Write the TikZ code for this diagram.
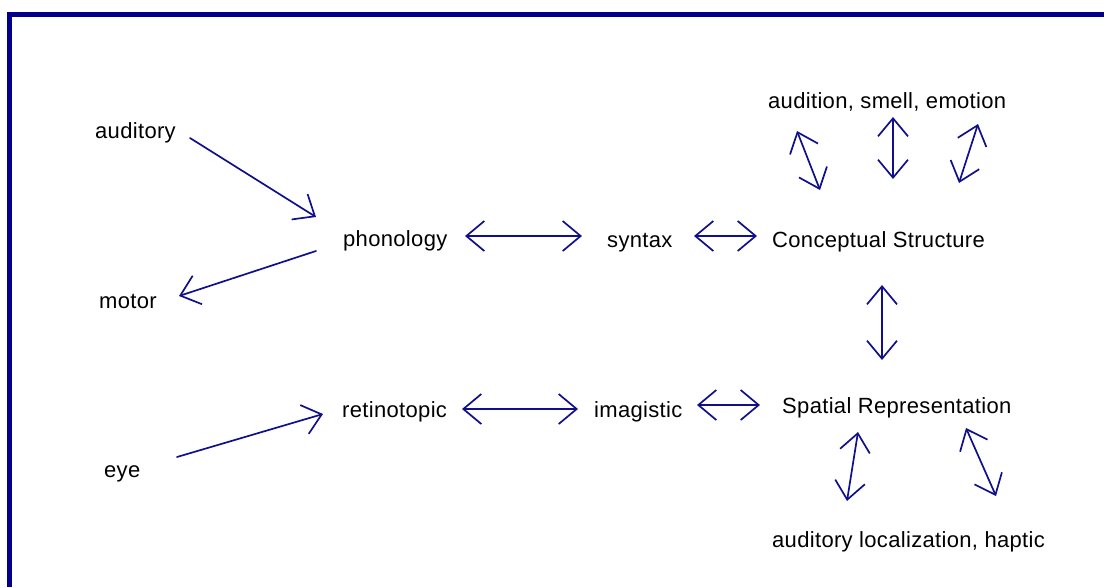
\documentclass[tikz,border=0pt]{standalone}
\usepackage{fontspec}
\setmainfont{Liberation Sans}[LetterSpace=1.5]
\usetikzlibrary{arrows.meta}
\definecolor{navy}{RGB}{0,0,140}
\definecolor{arrowblue}{RGB}{16,16,140}
\tikzset{
  lbl/.style={inner sep=0pt, anchor=base west, font=\fontsize{22}{25}\selectfont, text=black},
  conn/.style={draw=arrowblue, line width=1.7pt, line cap=round, line join=round},
  one/.style={conn, -{Straight Barb[length=18pt,width=30pt,line width=1.7pt]}},
  two/.style={conn, {Straight Barb[length=18pt,width=30pt,line width=1.7pt]}-{Straight Barb[length=18pt,width=30pt,line width=1.7pt]}},
}
\begin{document}
\begin{tikzpicture}[x=1pt,y=-1pt]
\useasboundingbox (0,0) rectangle (1104,587);
% frame
\fill[navy] (7,12) rectangle (1104,17);
\fill[navy] (7,12) rectangle (12,587);
% labels (left edge, baseline)
\node[lbl] (auditory) at (95,138) {auditory};
\node[lbl] (phonology) at (343,246) {phonology};
\node[lbl] (motor) at (99,308) {motor};
\node[lbl] (syntax) at (607,247) {syntax};
\node[lbl] (cs) at (772,247) {Conceptual Structure};
\node[lbl] (ase) at (768,108) {audition, smell, emotion};
\node[lbl] (retino) at (342,417) {retinotopic};
\node[lbl] (imag) at (594,417) {imagistic};
\node[lbl] (sr) at (782,413) {Spatial Representation};
\node[lbl] (eye) at (104,477) {eye};
\node[lbl] (alh) at (772,547) {auditory localization, haptic};
% connector end points
\coordinate (a1) at (190,138); \coordinate (a2) at (316,217);
\coordinate (m1) at (316,251); \coordinate (m2) at (179,296);
\coordinate (p1) at (465,236); \coordinate (p2) at (582,236);
\coordinate (s1) at (694,236); \coordinate (s2) at (757,236);
\coordinate (t1) at (797,131); \coordinate (t2) at (820,190);
\coordinate (u1) at (893,117); \coordinate (u2) at (893,179);
\coordinate (v1) at (978,124); \coordinate (v2) at (959,183);
\coordinate (c1) at (882,285); \coordinate (c2) at (882,360);
\coordinate (r1) at (462,409); \coordinate (r2) at (578,409);
\coordinate (i1) at (697,405); \coordinate (i2) at (760,405);
\coordinate (e1) at (177,457); \coordinate (e2) at (323,414);
\coordinate (l1) at (858,432); \coordinate (l2) at (847,501);
\coordinate (h1) at (966,428); \coordinate (h2) at (996,496);
% connectors
\draw[one] (a1) -- (a2);
\draw[one] (m1) -- (m2);
\draw[two] (p1) -- (p2);
\draw[two] (s1) -- (s2);
\draw[two] (t1) -- (t2);
\draw[two] (u1) -- (u2);
\draw[two] (v1) -- (v2);
\draw[two] (c1) -- (c2);
\draw[two] (r1) -- (r2);
\draw[two] (i1) -- (i2);
\draw[one] (e1) -- (e2);
\draw[two] (l1) -- (l2);
\draw[two] (h1) -- (h2);
\end{tikzpicture}
\end{document}
